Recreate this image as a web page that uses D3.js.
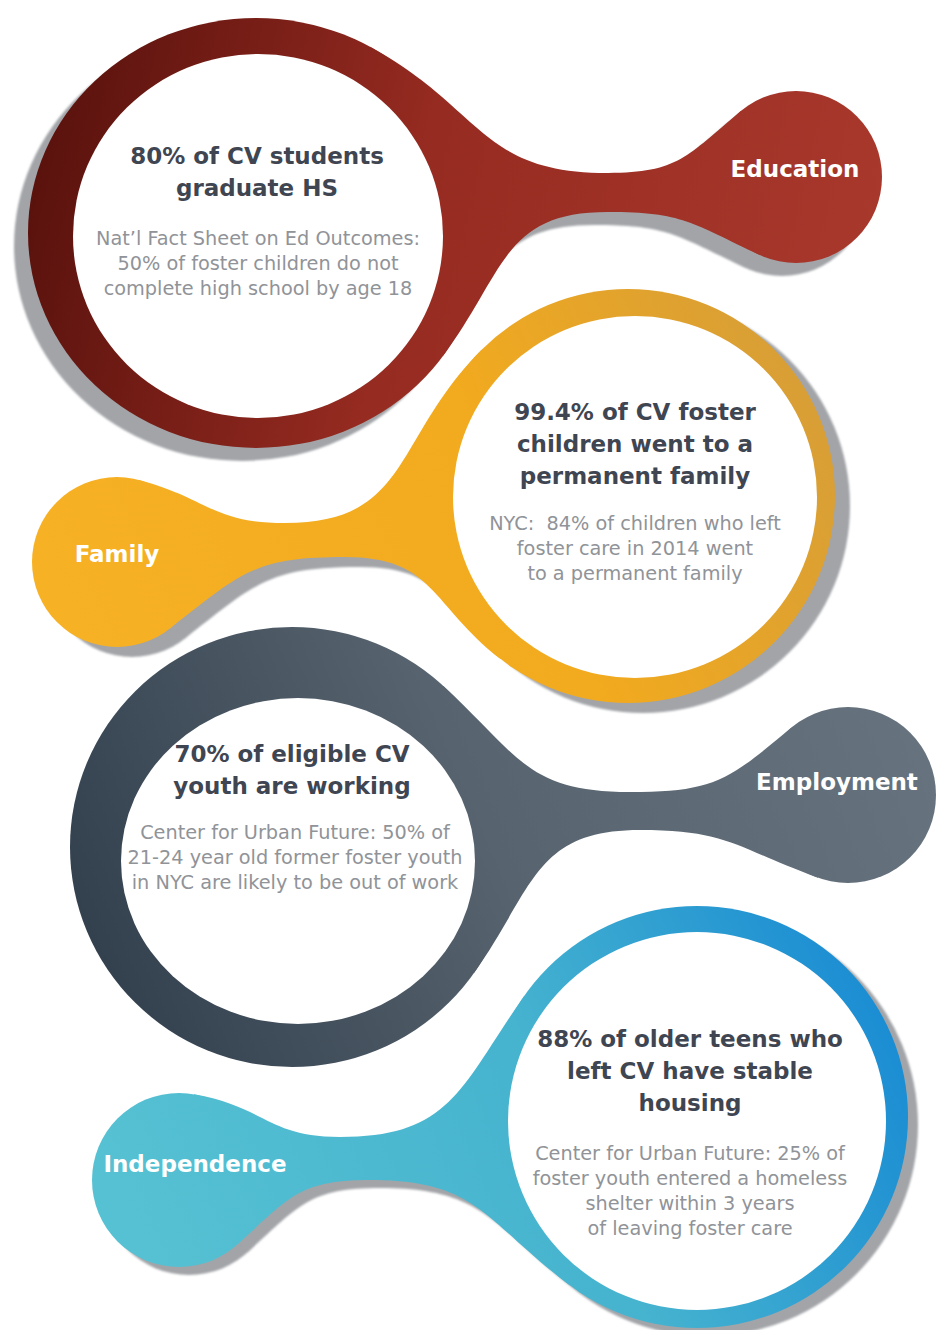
<!DOCTYPE html>
<html>
<head>
<meta charset="utf-8">
<script src="https://cdn.jsdelivr.net/npm/d3@7"></script>
<style>
  html, body { margin: 0; padding: 0; background: #ffffff; }
  svg { display: block; }
  text { white-space: pre; }
</style>
</head>
<body>
<script>
// ---------------- DATA ----------------
const categories = ["Education", "Family", "Employment", "Independence"];
const headlines = [
  ["80% of CV students", "graduate HS"],
  ["99.4% of CV foster", "children went to a", "permanent family"],
  ["70% of eligible CV", "youth are working"],
  ["88% of older teens who", "left CV have stable", "housing"]
];
const sources = [
  ["Nat\u2019l Fact Sheet on Ed Outcomes:", "50% of foster children do not", "complete high school by age 18"],
  ["NYC:  84% of children who left", "foster care in 2014 went", "to a permanent family"],
  ["Center for Urban Future: 50% of", "21-24 year old former foster youth", "in NYC are likely to be out of work"],
  ["Center for Urban Future: 25% of", "foster youth entered a homeless", "shelter within 3 years", "of leaving foster care"]
];

// ---------------- LAYOUT (geometry & style) ----------------
const layout = [
  { body: {cx:256, cy:233, rx:228, ry:215}, inner: {cx:258, cy:236, rx:185, ry:182},
    knob: {cx:796, cy:177, r:86},
    upper: {b:-60, k:-130, w:[608,173]}, lower: {b:35, k:115, w:[608,212]},
    shadow: [-14, 13],
    grad: {x1:60, y1:60, x2:880, y2:250, stops:[[0,"#5a120d"],[0.45,"#962b21"],[1,"#a9382c"]]},
    text: {x:257, hy:164, sx:258, sy:245}, label: {x:795, y:177} },
  { body: {cx:628, cy:496, rx:207, ry:207}, inner: {cx:635, cy:497, rx:182, ry:181},
    knob: {cx:117, cy:562, r:85},
    upper: {b:-135, k:-75, w:[285,523]}, lower: {b:128, k:52, w:[345,557]},
    shadow: [15, 10],
    grad: {x1:80, y1:650, x2:820, y2:300, stops:[[0,"#f7b124"],[0.55,"#f2aa1e"],[1,"#d49d3a"]]},
    text: {x:635, hy:420, sx:635, sy:530}, label: {x:117, y:562} },
  { body: {cx:292, cy:847, rx:222, ry:220}, inner: {cx:298, cy:861, rx:177, ry:163},
    knob: {cx:848, cy:795, r:88},
    upper: {b:-47, k:-130, w:[630,792]}, lower: {b:35, k:110, w:[640,830]},
    shadow: null,
    grad: {x1:110, y1:1040, x2:900, y2:700, stops:[[0,"#313e4c"],[0.5,"#57646f"],[1,"#66737e"]]},
    text: {x:292, hy:762, sx:295, sy:839}, label: {x:837, y:790} },
  { body: {cx:697, cy:1117, rx:211, ry:211}, inner: {cx:697, cy:1121, rx:189, ry:189},
    knob: {cx:179, cy:1180, r:87},
    upper: {b:-145, k:-80, w:[340,1137]}, lower: {b:127, k:48, w:[370,1180]},
    shadow: [10, 8],
    grad: {x1:150, y1:1260, x2:860, y2:940, stops:[[0,"#56c1d2"],[0.55,"#46b3cf"],[1,"#1a8cd3"]]},
    text: {x:690, hy:1047, sx:690, sy:1160}, label: {x:195, y:1172} }
];

const headStep = 32, subStep = 25;
const shadowColor = "#a2a4a8";

// ---------------- DRAWING ----------------
const W = 936, H = 1330;
const svg = d3.select("body").append("svg").attr("width", W).attr("height", H);
svg.append("rect").attr("width", W).attr("height", H).attr("fill", "#ffffff");
const defs = svg.append("defs");

defs.append("filter").attr("id", "soft")
  .append("feGaussianBlur").attr("stdDeviation", 1.2);

const rad = d => d * Math.PI / 180;
function ellPt(e, deg) {
  const rx = e.rx ?? e.r, ry = e.ry ?? e.r;
  return [e.cx + rx * Math.cos(rad(deg)), e.cy + ry * Math.sin(rad(deg))];
}
function ellTan(e, deg, dir) {
  const rx = e.rx ?? e.r, ry = e.ry ?? e.r;
  let v = [-rx * Math.sin(rad(deg)), ry * Math.cos(rad(deg))];
  const n = Math.hypot(v[0], v[1]);
  v = [v[0] / n, v[1] / n];
  if (v[0] * dir < 0) v = [-v[0], -v[1]];
  return v;
}
const dist = (a, b) => Math.hypot(a[0] - b[0], a[1] - b[1]);

function edge(L, e) {
  const dir = Math.sign(L.knob.cx - L.body.cx);
  const P0 = ellPt(L.body, e.b), t0 = ellTan(L.body, e.b, dir);
  const P3 = ellPt(L.knob, e.k), t3 = ellTan(L.knob, e.k, dir);
  const Wp = e.w;
  const k = 0.48;
  const L1 = k * dist(P0, Wp), L2 = k * dist(Wp, P3);
  return {
    P0, P3, Wp,
    a1: [P0[0] + L1 * t0[0], P0[1] + L1 * t0[1]],
    a2: [Wp[0] - L1 * dir, Wp[1]],
    b1: [Wp[0] + L2 * dir, Wp[1]],
    b2: [P3[0] - L2 * t3[0], P3[1] - L2 * t3[1]]
  };
}

function neckPath(L) {
  const u = edge(L, L.upper), l = edge(L, L.lower);
  const p = d3.path();
  p.moveTo(...u.P0);
  p.bezierCurveTo(...u.a1, ...u.a2, ...u.Wp);
  p.bezierCurveTo(...u.b1, ...u.b2, ...u.P3);
  p.lineTo(L.knob.cx, L.knob.cy);
  p.lineTo(...l.P3);
  p.bezierCurveTo(...l.b2, ...l.b1, ...l.Wp);
  p.bezierCurveTo(...l.a2, ...l.a1, ...l.P0);
  p.lineTo(L.body.cx, L.body.cy);
  p.closePath();
  return p.toString();
}

function drawUnion(g, L, fill) {
  g.append("ellipse").attr("cx", L.body.cx).attr("cy", L.body.cy)
    .attr("rx", L.body.rx).attr("ry", L.body.ry).attr("fill", fill);
  g.append("circle").attr("cx", L.knob.cx).attr("cy", L.knob.cy)
    .attr("r", L.knob.r).attr("fill", fill);
  g.append("path").attr("d", neckPath(L)).attr("fill", fill);
}

categories.forEach((cat, i) => {
  const L = layout[i];
  const gid = "grad" + i;
  const lg = defs.append("linearGradient").attr("id", gid)
    .attr("gradientUnits", "userSpaceOnUse")
    .attr("x1", L.grad.x1).attr("y1", L.grad.y1)
    .attr("x2", L.grad.x2).attr("y2", L.grad.y2);
  L.grad.stops.forEach(s => lg.append("stop").attr("offset", s[0]).attr("stop-color", s[1]));

  const g = svg.append("g").attr("class", "blob blob-" + i);

  if (L.shadow) {
    const sg = g.append("g")
      .attr("transform", `translate(${L.shadow[0]},${L.shadow[1]})`)
      .attr("filter", "url(#soft)");
    drawUnion(sg, L, shadowColor);
  }
  drawUnion(g.append("g"), L, `url(#${gid})`);

  g.append("ellipse").attr("cx", L.inner.cx).attr("cy", L.inner.cy)
    .attr("rx", L.inner.rx).attr("ry", L.inner.ry).attr("fill", "#ffffff");

  // headline
  g.append("g").selectAll("text").data(headlines[i]).join("text")
    .attr("x", L.text.x)
    .attr("y", (d, j) => L.text.hy + j * headStep)
    .attr("text-anchor", "middle")
    .attr("font-family", "'DejaVu Sans', sans-serif")
    .attr("font-weight", "bold")
    .attr("font-size", 23)
    .attr("fill", "#3f4652")
    .text(d => d);

  // source text
  g.append("g").selectAll("text").data(sources[i]).join("text")
    .attr("x", L.text.sx)
    .attr("y", (d, j) => L.text.sy + j * subStep)
    .attr("text-anchor", "middle")
    .attr("font-family", "'DejaVu Sans', sans-serif")
    .attr("font-size", 19.3)
    .attr("fill", "#909398")
    .text(d => d);

  // category label
  g.append("text")
    .attr("x", L.label.x).attr("y", L.label.y)
    .attr("text-anchor", "middle")
    .attr("font-family", "'DejaVu Sans', sans-serif")
    .attr("font-weight", "bold")
    .attr("font-size", 23)
    .attr("fill", "#ffffff")
    .text(cat);
});
</script>
</body>
</html>
